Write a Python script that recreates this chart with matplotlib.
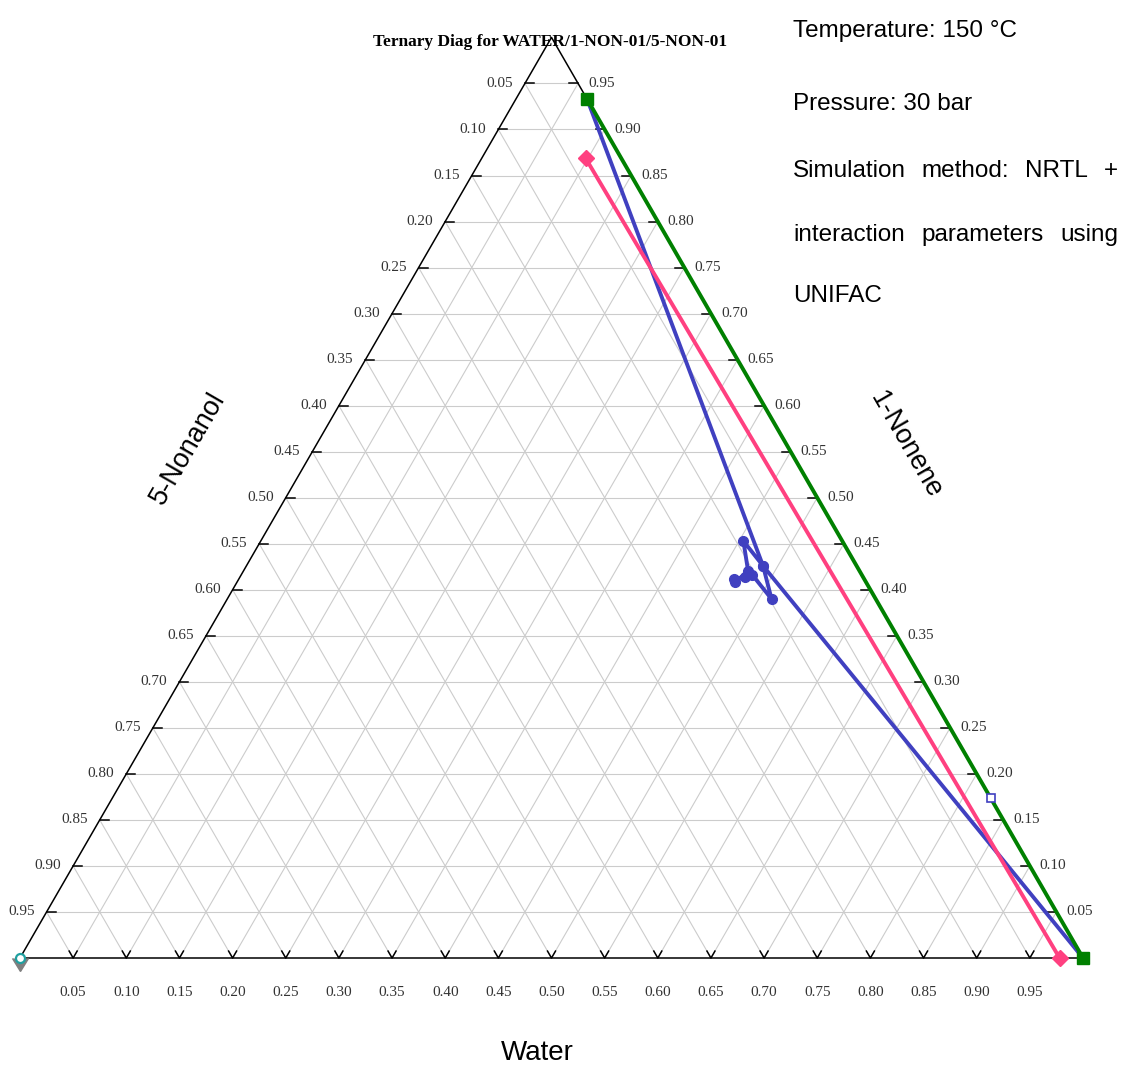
import matplotlib
matplotlib.use("Agg")
import matplotlib.pyplot as plt
import numpy as np

# compositions given as (water, 1-nonene) mole fractions, 5-nonanol = 1 - both
green_water = [0.067, 1.0]
green_nonene = [0.933, 0.0]

pink_water = [0.098, 0.978]
pink_nonene = [0.8685, 0.0]

blue_water = [0.067, 0.486, 0.512, 0.481, 0.475, 0.466, 0.469, 0.475, 0.454, 0.486, 1.0]
blue_nonene = [0.933, 0.426, 0.390, 0.416, 0.414, 0.412, 0.408, 0.420, 0.453, 0.426, 0.0]

feed_water = [0.8265]
feed_nonene = [0.174]

corner_water = [0.0]
corner_nonene = [0.0]

ticks = np.round(np.arange(0.05, 1.0, 0.05), 2)

title = "Ternary Diag for WATER/1-NON-01/5-NON-01"
notes = ["Temperature: 150 °C", "Pressure: 30 bar"]
note_justified = ["Simulation method: NRTL +",
                  "interaction parameters using"]
note_last = "UNIFAC"

H = np.sqrt(3) / 2
PX = 1063.0  # pixels per unit side


def tern(w, n):
    w = np.asarray(w, float)
    n = np.asarray(n, float)
    return w + n / 2, n * H


def px(x, y):
    # figure pixel position -> data coords
    return (x - 20) / PX, (958 - y) / PX


fig = plt.figure(figsize=(11.31, 10.67), dpi=100)
ax = fig.add_axes([0, 0, 1, 1])
ax.set_xlim(-20 / PX, (1131 - 20) / PX)
ax.set_ylim((958 - 1067) / PX, 958 / PX)
ax.axis("off")

# grid
for t in ticks:
    for (w0, n0), (w1, n1) in [((0, t), (1 - t, t)),
                               ((t, 0), (t, 1 - t)),
                               ((1 - t, 0), (0, 1 - t))]:
        xs, ys = tern([w0, w1], [n0, n1])
        ax.plot(xs, ys, color="#cccccc", lw=0.8, zorder=1)

# triangle edges
ex, ey = tern([0, 1, 0, 0], [0, 0, 1, 0])
ax.plot(ex, ey, color="black", lw=1.1, zorder=2)

tl = 9 / PX
vl = 8 / PX
lab_kw = dict(family="Liberation Serif", fontsize=11, color="#333333")
for t in ticks:
    # left edge
    x, y = tern(0, t)
    ax.plot([x, x + tl], [y, y], color="black", lw=1.1, zorder=2)
    ax.text(x - 12 / PX, y, f"{1 - t:.2f}", ha="right", va="center", **lab_kw)
    # right edge
    x, y = tern(1 - t, t)
    ax.plot([x, x - tl], [y, y], color="black", lw=1.1, zorder=2)
    ax.text(x + 10 / PX, y, f"{t:.2f}", ha="left", va="center", **lab_kw)
    # bottom edge
    x, y = tern(t, 0)
    ax.plot([x - vl * 0.5, x, x + vl * 0.5], [y + vl * H, y, y + vl * H],
            color="black", lw=1.1, zorder=2)
    ax.text(x, y - 35 / PX, f"{t:.2f}", ha="center", va="center", **lab_kw)

# profiles
bx, by = tern(blue_water, blue_nonene)
ax.plot(bx, by, color="#4040c0", lw=2.8, zorder=3)
ax.plot(bx[1:-1], by[1:-1], "o", color="#4040c0", ms=7, zorder=3)

fx, fy = tern(feed_water, feed_nonene)
ax.plot(fx, fy, "s", mfc="white", mec="#4040c0", ms=5.5, mew=1.2, zorder=5)

px_, py_ = tern(pink_water, pink_nonene)
ax.plot(px_, py_, color="#ff4080", lw=2.8, marker="D", ms=8.5, zorder=4)

gx, gy = tern(green_water, green_nonene)
ax.plot(gx, gy, color="#008000", lw=2.8, marker="s", ms=8.5, zorder=4)

cx, cy = tern(corner_water, corner_nonene)
ax.plot(cx, cy, marker=11, color="#7f7f7f", ms=12, ls="none", zorder=5)
ax.plot(cx, cy, "o", mfc="white", mec="#20a0a0", ms=6.5, mew=1.6, zorder=6)

# labels
sans = "Liberation Sans"
ax.text(*px(550, 42), title, family="Liberation Serif", fontweight="bold",
        fontsize=12.5, ha="center", va="center", zorder=7)
ax.text(*px(537, 1053), "Water", family=sans, fontsize=20, ha="center", va="center")
ax.text(*px(188, 448), "5-Nonanol", family=sans, fontsize=19.5, rotation=60,
        ha="center", va="center", rotation_mode="anchor")
ax.text(*px(906, 445), "1-Nonene", family=sans, fontsize=19.5, rotation=-60,
        ha="center", va="center", rotation_mode="anchor")

note_kw = dict(family=sans, fontsize=17.5, va="baseline", ha="left")
ax.text(*px(793, 37), notes[0], **note_kw)
ax.text(*px(793, 110), notes[1], **note_kw)
ax.text(*px(793, 302), note_last, **note_kw)

# justified lines: first word at left margin, last word flush right
renderer = fig.canvas.get_renderer()
left_px, right_px = 793, 1118
for line, base in zip(note_justified, [177, 241]):
    words = line.split()
    arts = [ax.text(*px(left_px, base), w, **note_kw) for w in words]
    widths = [a.get_window_extent(renderer).width for a in arts]
    gap = (right_px - left_px - sum(widths)) / (len(words) - 1)
    x = left_px
    for a, wdt in zip(arts, widths):
        a.set_position(px(x, base))
        x += wdt + gap

fig.savefig("out.png", dpi=100)
